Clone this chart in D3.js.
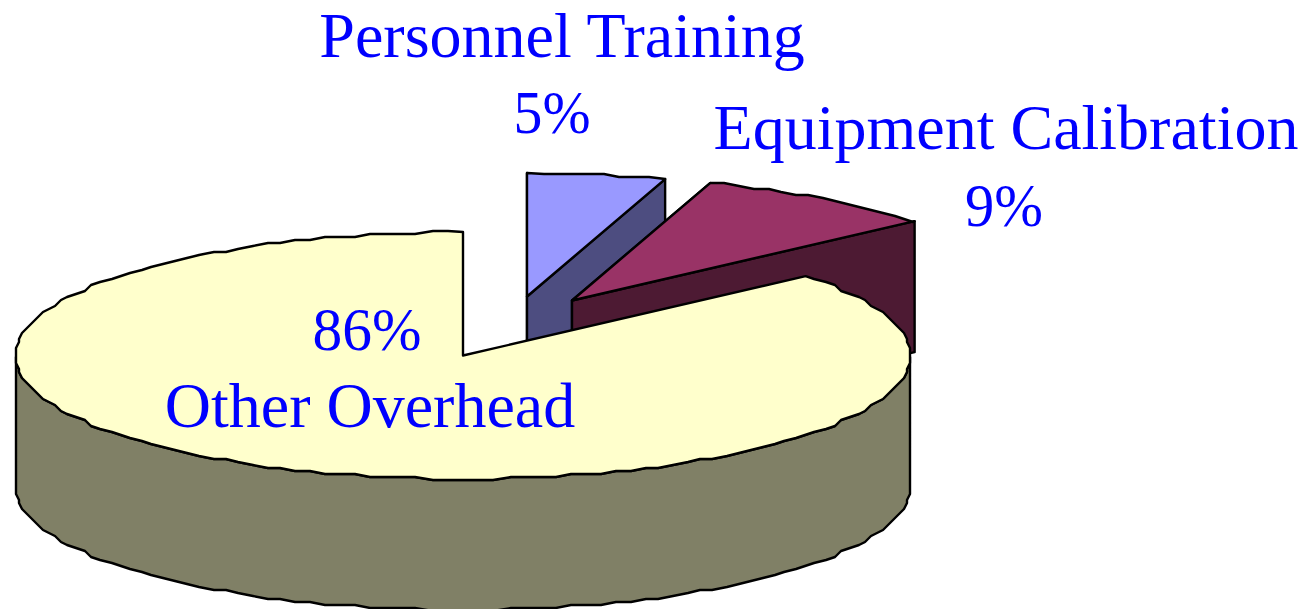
<!DOCTYPE html>
<html>
<head>
<meta charset="utf-8">
<script src="https://cdn.jsdelivr.net/npm/d3@7"></script>
<style>
  html, body { margin: 0; padding: 0; background: #fff; overflow: hidden; }
  text { font-family: "Liberation Serif", serif; font-size: 64px; fill: #0000ff; text-anchor: middle; }
  text.pct { font-size: 62px; }
</style>
</head>
<body>
<div id="chart"></div>
<script>
var categories = ["Personnel Training", "Equipment Calibration", "Other Overhead"];
var shares = [5, 8.9, 86.1];
var topColors = ["#9999ff", "#993366", "#ffffcc"];
var wallColors = ["#4d4d80", "#4d1a33", "#808066"];

var width = 1307, height = 609, depth = 131;

// the pie is squashed into an ellipse, unit circle -> pixels
var x = d3.scaleLinear().domain([-1, 1]).range([16, 910]);
var y = d3.scaleLinear().domain([-1, 1]).range([232, 479]);

// how far each slice is pulled out of the pie
var explode = [[64, -59], [109, -55], [0, 0]];

var svg = d3.select("#chart").append("svg")
  .attr("width", width)
  .attr("height", height);

var slices = d3.pie().sort(null).value(function (d) { return d; })(shares);

var step = 2 * Math.PI / 180;

// the original outline is a coarse metafile polyline, so snap the samples to a grid
function snap(v, off) { return Math.round((v - off) / 3) * 3 + off; }

function rimPoints(a0, a1, dx, dy) {
  var angles = [a0];
  for (var k = Math.floor(a0 / step) + 1; k * step < a1 - 1e-6; k++) angles.push(k * step);
  angles.push(a1);
  return angles.map(function (a, i) {
    var px = x(Math.sin(a)) + dx, py = y(-Math.cos(a)) + dy;
    var p = (i == 0 || i == angles.length - 1) ? [px, py] : [snap(px, 1), snap(py, 0)];
    p.angle = a;
    return p;
  });
}

var line = d3.line();

function drawPoly(pts, fill) {
  svg.append("path")
    .attr("d", line(pts) + "Z")
    .attr("fill", fill)
    .attr("stroke", "#000")
    .attr("stroke-width", 2.4)
    .attr("stroke-linejoin", "round");
}

slices.forEach(function (s, i) {
  var dx = explode[i][0], dy = explode[i][1];
  var apex = [x(0) + dx, y(0) + dy];
  var rim = rimPoints(s.startAngle, s.endAngle, dx, dy);
  var down = function (p) { return [p[0], p[1] + depth]; };

  // cut faces of the slice
  var first = rim[0], last = rim[rim.length - 1];
  if (i < 2) {
    drawPoly([apex, first, down(first), down(apex)], wallColors[i]);
    drawPoly([apex, last, down(last), down(apex)], wallColors[i]);
  }

  // outer wall, only the front half of the rim faces the viewer
  var front = rim.filter(function (p) {
    return p.angle >= Math.PI / 2 - 1e-6 && p.angle <= 3 * Math.PI / 2 + 1e-6;
  });
  if (front.length > 1) {
    drawPoly(front.concat(front.map(down).reverse()), wallColors[i]);
  }

  // top face
  drawPoly([apex].concat(rim), topColors[i]);
});

var labels = [
  { t: categories[0], x: 562, y: 57 },
  { t: Math.round(shares[0]) + "%", x: 552, y: 133, w: 77 },
  { t: categories[1], x: 1006, y: 149 },
  { t: Math.round(shares[1]) + "%", x: 1004, y: 226, w: 78 },
  { t: Math.round(shares[2]) + "%", x: 367, y: 350, w: 109 },
  { t: categories[2], x: 370, y: 427 }
];

svg.selectAll("text")
  .data(labels)
  .join("text")
  .attr("class", function (d) { return d.w ? "pct" : null; })
  .attr("x", function (d) { return d.x; })
  .attr("y", function (d) { return d.y; })
  .attr("textLength", function (d) { return d.w || null; })
  .attr("lengthAdjust", function (d) { return d.w ? "spacingAndGlyphs" : null; })
  .text(function (d) { return d.t; });
</script>
</body>
</html>
